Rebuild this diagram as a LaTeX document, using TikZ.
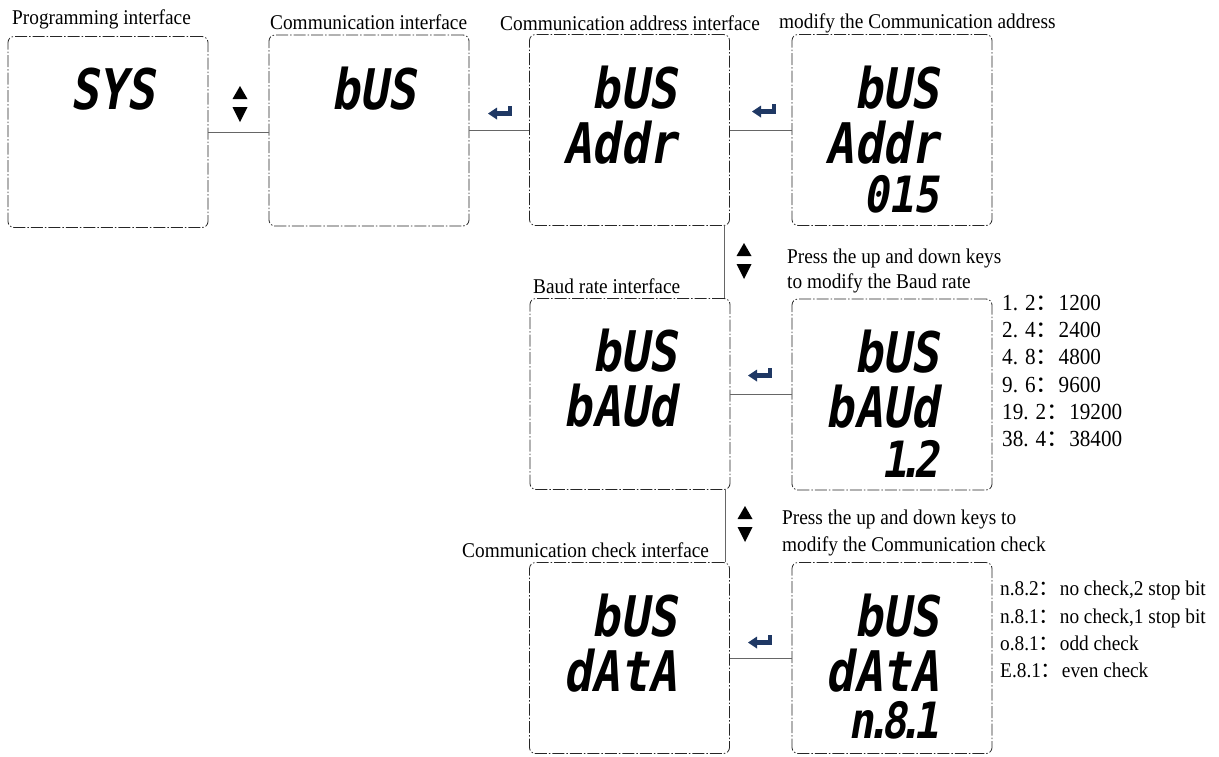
\documentclass[tikz,border=0pt]{standalone}
\usepackage{fontspec}
\setmainfont{Liberation Serif}[FakeStretch=0.92]
\newfontfamily\lcdfont{DejaVu Sans Mono}[FakeSlant=0.17,FakeStretch=0.84]
\newfontfamily\cjk{Noto Sans CJK SC}
\newcommand{\fwcolon}{\smash{\cjk ：}}
\newcommand{\lcddot}{\kern-.18em.\kern-.18em}
\newcommand{\lcdsmall}{\fontsize{50}{50}\selectfont}
\definecolor{keyblue}{RGB}{31,56,100}

\tikzset{
  lcdbox/.style={draw=black!85, line width=0.8pt, rounded corners=6pt,
    dash pattern=on 12pt off 2pt on 1.5pt off 2pt,
    minimum width=200pt, minimum height=191pt, inner sep=0pt},
  lcdtext/.style={anchor=north east, inner sep=0pt, align=right,
    font=\lcdfont\bfseries\fontsize{56}{55}\selectfont},
  caption/.style={anchor=base west, inner sep=0pt, font=\fontsize{21}{21}\selectfont},
  link/.style={draw=black!60, line width=0.9pt},
  updown/.pic={
    \fill (-7.5,-5) -- (7.5,-5) -- (0,-18) -- cycle;
    \fill (-7.5,3) -- (7.5,3) -- (0,18) -- cycle;
  },
  enterkey/.pic={
    \fill[keyblue] (20,0) rectangle (24,10);
    \fill[keyblue] (8,5) rectangle (24,10);
    \fill[keyblue] (0,7.5) -- (9,1.5) -- (9,13.5) -- cycle;
  },
}

\begin{document}
\begin{tikzpicture}[x=1pt,y=-1pt]

\useasboundingbox (0,0) rectangle (1219,756);

% display boxes
\node[lcdbox] (sysbox) at (108,132) {};
\node[lcdbox] (busbox) at (369,130.5) {};
\node[lcdbox] (addrbox) at (629.5,130) {};
\node[lcdbox] (addrset) at (892,130) {};
\node[lcdbox] (baudbox) at (630,394) {};
\node[lcdbox] (baudset) at (892,394.5) {};
\node[lcdbox] (databox) at (629.5,658) {};
\node[lcdbox] (dataset) at (892,658) {};

% display contents
\node[lcdtext] (sysshow) at ([xshift=-53pt,yshift=-32pt]sysbox.north east) {SYS};
\node[lcdtext] (busshow) at ([xshift=-53pt,yshift=-32pt]busbox.north east) {bUS};
\node[lcdtext] (addrshow) at ([xshift=-53pt,yshift=-32pt]addrbox.north east) {bUS\\Addr};
\node[lcdtext] (addrsetshow) at ([xshift=-53pt,yshift=-32pt]addrset.north east) {bUS\\Addr\\[-6pt]{\lcdsmall 015}};
\node[lcdtext] (baudshow) at ([xshift=-53pt,yshift=-31pt]baudbox.north east) {bUS\\bAUd};
\node[lcdtext] (baudsetshow) at ([xshift=-53pt,yshift=-31pt]baudset.north east) {bUS\\bAUd\\[-5pt]{\lcdsmall 1\lcddot2}};
\node[lcdtext] (datashow) at ([xshift=-53pt,yshift=-32pt]databox.north east) {bUS\\dAtA};
\node[lcdtext] (datasetshow) at ([xshift=-53pt,yshift=-32pt]dataset.north east) {bUS\\dAtA\\[-8pt]{\lcdsmall n\lcddot8\lcddot1}};

% captions
\node[caption] (syscap) at (12,24) {Programming interface};
\node[caption] (buscap) at (270,29) {Communication interface};
\node[caption] (addrcap) at (500,30) {Communication address interface};
\node[caption] (addrsetcap) at (779,28) {modify the Communication address};
\node[caption] (baudcap) at (533,293) {Baud rate interface};
\node[caption] (datacap) at (462,557) {Communication check interface};

\node[anchor=north west, inner sep=0pt, align=left, font=\fontsize{21}{25}\selectfont]
  (baudhint) at (787,249) {Press the up and down keys\\to modify the Baud rate};
\node[anchor=north west, inner sep=0pt, align=left, font=\fontsize{21}{27}\selectfont]
  (datahint) at (782,510) {Press the up and down keys to\\modify the Communication check};

\node[anchor=north west, inner sep=0pt, align=left, font=\fontsize{23}{27.2}\selectfont]
  (baudlist) at (1002,295) {1. 2\fwcolon1200\\2. 4\fwcolon2400\\4. 8\fwcolon4800\\
  9. 6\fwcolon9600\\19. 2\fwcolon19200\\38. 4\fwcolon38400};
\node[anchor=north west, inner sep=0pt, align=left, font=\fontsize{21}{27.3}\selectfont]
  (datalist) at (1000,581) {n.8.2\fwcolon no check,2 stop bit\\n.8.1\fwcolon no check,1 stop bit\\
  o.8.1\fwcolon odd check\\E.8.1\fwcolon even check};

% connectors
\draw[link] (sysbox.east) -- (sysbox.east -| busbox.west);
\draw[link] (busbox.east) -- (busbox.east -| addrbox.west);
\draw[link] (addrbox.east) -- (addrbox.east -| addrset.west);
\draw[link] ([xshift=-5pt]addrbox.south east) -- ([xshift=-5pt]addrbox.south east |- baudbox.north);
\draw[link] (baudbox.east) -- (baudbox.east -| baudset.west);
\draw[link] ([xshift=-5pt]baudbox.south east) -- ([xshift=-5pt]baudbox.south east |- databox.north);
\draw[link] (databox.east) -- (databox.east -| dataset.west);

% keys
\pic at (240,104) {updown};
\pic at (744,261) {updown};
\pic at (745,524) {updown};

\pic at (488,106) {enterkey};
\pic at (752,104) {enterkey};
\pic at (748,368) {enterkey};
\pic at (748,635) {enterkey};

\end{tikzpicture}
\end{document}
